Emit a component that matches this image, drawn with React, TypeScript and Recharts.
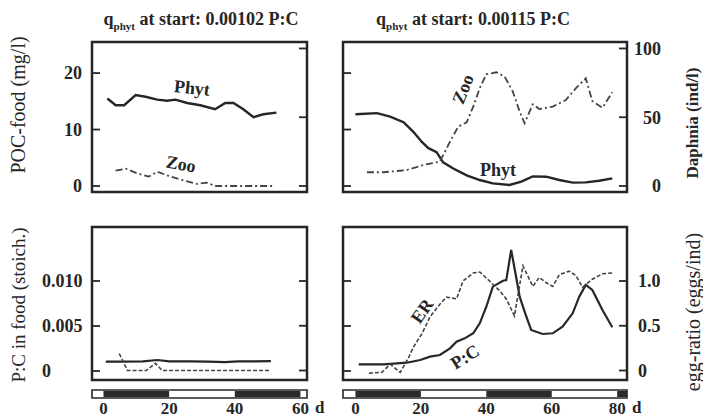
import React from 'react';
import { LineChart, ComposedChart, Line, Area, XAxis, YAxis, ReferenceArea } from 'recharts';

const FONT = '"Liberation Serif", "Times New Roman", serif';
const INK = '#262626';
const GREY = '#444444';

// ---------- top-left panel (q start 0.00102) ----------
const phytLDays = [1.2, 3.7, 6.3, 9.8, 12.8, 16.4, 19.4, 21.9, 25.5, 29.5, 34, 37.1, 39.6, 42.6, 45.7, 48.7, 52.7];
const phytLPoc = [15.5, 14.3, 14.3, 16.1, 15.8, 15.3, 15.1, 15.3, 14.7, 14.3, 13.6, 14.7, 14.7, 13.6, 12.2, 12.7, 13.0];
const zooLDays = [3.7, 6.8, 10.3, 13.8, 16.4, 19.9, 24.5, 28.5, 31.5, 34, 51.7];
const zooLInd = [11.1, 12.6, 9.2, 6.8, 10.4, 7.3, 3.9, 1.5, 2.4, 0, 0];

// ---------- top-right panel (q start 0.00115) ----------
const phytRDays = [0, 6.6, 10.6, 14.7, 17.7, 20.3, 22.3, 24.8, 26.8, 29.9, 34, 38, 42, 47.1, 50.7, 54.2, 58.3, 62.3, 66.4, 70.4, 74.5, 78.5];
const phytRPoc = [12.7, 12.9, 12.3, 11.3, 9.6, 7.8, 6.7, 6.0, 4.2, 3.1, 1.9, 1.06, 0.47, 0.18, 0.77, 1.7, 1.65, 1.06, 0.6, 0.65, 0.94, 1.36];
const zooRDays = [3.5, 8.6, 15.7, 20.8, 25.8, 28.9, 31.4, 34, 36, 38, 40, 43.1, 45.6, 48.1, 50.2, 51.7, 54.2, 56.2, 60.3, 64.3, 67.4, 70.4, 72.4, 75.5, 78.5];
const zooRInd = [10.0, 10.0, 11.6, 15.3, 17.7, 32.2, 43.1, 46.3, 57.7, 71.1, 81.2, 82.7, 79.5, 68.6, 54.0, 45.6, 59.4, 56.0, 57.7, 62.5, 71.1, 78.3, 61.8, 56.9, 68.1];

// ---------- bottom-left panel ----------
const pcLDays = [0.7, 6, 12, 16.5, 20, 26, 32, 37, 41, 46, 51];
const pcLVals = [0.00105, 0.00105, 0.00108, 0.00122, 0.00108, 0.00106, 0.00104, 0.00098, 0.00106, 0.00108, 0.0011];
const erLDays = [4.8, 7.3, 13, 15.8, 17.9, 25, 35, 45, 51];
const erLVals = [0.19, 0, 0, 0.08, 0, 0, 0, 0, 0];

// ---------- bottom-right panel ----------
const pcRDays = [1, 8.6, 15.7, 19.8, 22.8, 25.8, 28.9, 30.9, 33.4, 36, 38, 40, 42, 45.1, 46.1, 47.6, 49.1, 50.2, 51.7, 53.7, 57.2, 60.3, 63.3, 66.4, 68.4, 70.4, 72.4, 75.5, 78.5];
const pcRVals = [0.00074, 0.00074, 0.00092, 0.00122, 0.00159, 0.00178, 0.00252, 0.00326, 0.00363, 0.00419, 0.0053, 0.00714, 0.00937, 0.01003, 0.0101, 0.01344, 0.01048, 0.00826, 0.00659, 0.00456, 0.00411, 0.00419, 0.00493, 0.00641, 0.00826, 0.00956, 0.009, 0.00678, 0.00486];
const erRDays = [4.1, 8.1, 10.6, 13.7, 16.2, 17.7, 20.3, 22.8, 25.8, 27.8, 30.9, 32.9, 36, 38, 41, 44.1, 46.1, 48.6, 51.2, 54.2, 56.2, 58.3, 60.3, 62.3, 65.3, 67.4, 69.4, 72.4, 75.5, 78.5];
const erRVals = [-0.03, -0.02, 0.07, -0.02, 0.14, 0.26, 0.41, 0.6, 0.74, 0.82, 0.8, 1.0, 1.09, 1.1, 1.0, 0.89, 0.8, 0.61, 1.17, 0.94, 1.04, 0.98, 0.94, 1.07, 1.11, 1.06, 0.93, 1.02, 1.08, 1.09];

// ---------- axes ----------
const pocTicks = [0, 10, 20];
const daphTicks = [0, 50, 100];
const pcTicks = [0, 0.005, 0.01];
const eggTicks = [0, 0.5, 1.0];
const dayTicksL = [0, 20, 40, 60];
const dayTicksR = [0, 20, 40, 60, 80];
const darkL = [[0, 20], [40, 60]];
const darkR = [[0, 20], [40, 60], [80, 83]];

const xDomL = [-3.5, 62];
const xDomR = [-3.8, 83];
const pocDom = [-1.06, 25.5];
const daphDom = [-4.36, 104.7];
const pcDom = [-0.001, 0.016];
const eggDom = [-0.106, 1.603];

const zip = (xs: number[], ys: number[]) => xs.map((d, i) => ({ day: d, v: ys[i] }));

const tickText = { fill: INK, fontSize: 18, fontWeight: 'bold' as const, fontFamily: FONT };

type Series = { data: { day: number; v: number }[]; axis: 'l' | 'r'; dash?: string; color: string; w: number };

type AxisSpec = {
  domain: number[];
  ticks: number[];
  show: boolean;
  anchor?: 'start' | 'end';
  margin: number;
  fmt?: (v: number) => string;
};

// tick that draws an inward tick mark at the frame edge plus an optional label outside
function makeTick(side: 'l' | 'r', spec: AxisSpec) {
  return (p: any) => {
    const { x, y, payload } = p;
    const edge = side === 'l' ? x + spec.margin : x - spec.margin;
    const inner = side === 'l' ? edge + 8 : edge - 8;
    const label = spec.fmt ? spec.fmt(payload.value) : String(payload.value);
    return (
      <g>
        <line x1={edge} x2={inner} y1={y} y2={y} stroke={INK} strokeWidth={1.8} />
        {spec.show && (
          <text x={x} y={y} dy="0.35em" textAnchor={spec.anchor || (side === 'l' ? 'end' : 'start')} {...tickText}>
            {label}
          </text>
        )}
      </g>
    );
  };
}

function Panel(props: {
  left: number; top: number; width: number; height: number;
  leftW: number; rightW: number; mt: number; mb: number;
  xDom: number[]; la: AxisSpec; ra: AxisSpec; series: Series[];
}) {
  const { left, top, width, height, leftW, rightW, mt, mb, xDom, la, ra, series } = props;
  const frameData = [{ day: xDom[0], v: 0 }];
  return (
    <div style={{ position: 'absolute', left, top }}>
      <LineChart width={width} height={height} margin={{ top: mt, bottom: mb, left: 0, right: 0 }} data={frameData}>
        <XAxis xAxisId="b" type="number" dataKey="day" domain={xDom} allowDataOverflow hide />
        <YAxis
          yAxisId="l" orientation="left" width={leftW} type="number" domain={la.domain} allowDataOverflow
          ticks={la.ticks} interval={0} tickSize={0} tickMargin={la.margin}
          tick={makeTick('l', la)} tickLine={false} axisLine={false}
        />
        <YAxis
          yAxisId="r" orientation="right" width={rightW} type="number" domain={ra.domain} allowDataOverflow
          ticks={ra.ticks} interval={0} tickSize={0} tickMargin={ra.margin}
          tick={makeTick('r', ra)} tickLine={false} axisLine={false}
        />
        <ReferenceArea
          xAxisId="b" yAxisId="l" x1={xDom[0]} x2={xDom[1]} y1={la.domain[0]} y2={la.domain[1]}
          fill="none" stroke={INK} strokeWidth={2.5} ifOverflow="visible"
        />
        {series.map((s, i) => (
          <Line
            key={i} xAxisId="b" yAxisId={s.axis} data={s.data} dataKey="v" type="linear"
            stroke={s.color} strokeWidth={s.w} strokeDasharray={s.dash} dot={false}
            isAnimationActive={false}
          />
        ))}
      </LineChart>
    </div>
  );
}

// light/dark bar under the bottom panels, built as a stepped area from the dark periods
function DayBar(props: { left: number; width: number; ml: number; mr: number; xDom: number[]; ticks: number[]; dark: number[][]; dOffset: number }) {
  const { left, width, ml, mr, xDom, ticks, dark, dOffset } = props;
  const steps: { day: number; v: number }[] = [{ day: xDom[0], v: 0 }];
  dark.forEach((p) => {
    steps.push({ day: p[0], v: 1 });
    steps.push({ day: Math.min(p[1], xDom[1]), v: 0 });
  });
  if (steps[steps.length - 1].day < xDom[1]) steps.push({ day: xDom[1], v: 0 });
  return (
    <div style={{ position: 'absolute', left, top: 380 }}>
      <ComposedChart width={width} height={38} margin={{ top: 10, bottom: 0, left: ml, right: mr }} data={steps}>
        <XAxis
          type="number" dataKey="day" domain={xDom} allowDataOverflow ticks={ticks} interval={0}
          height={20} tickSize={0} tickMargin={4} tickLine={false} axisLine={false}
          tick={{ ...tickText, fontSize: 17 }}
          label={{ value: 'd', position: 'right', offset: dOffset, fill: INK, fontSize: 17, fontWeight: 'bold', fontFamily: FONT, dy: -1 }}
        />
        <YAxis type="number" domain={[-0.18, 1.18]} allowDataOverflow hide />
        <ReferenceArea x1={xDom[0]} x2={xDom[1]} y1={-0.18} y2={1.18} fill="none" stroke={INK} strokeWidth={1.6} ifOverflow="visible" />
        <Area
          type="stepAfter" dataKey="v" baseValue={0} stroke="none" fill="#2b2b2b" fillOpacity={1}
          dot={false} activeDot={false} isAnimationActive={false}
        />
      </ComposedChart>
    </div>
  );
}

function Txt(props: { x: number; y: number; rot?: number; size: number; bold?: boolean; children: React.ReactNode }) {
  const { x, y, rot = 0, size, bold, children } = props;
  return (
    <div
      style={{
        position: 'absolute', left: x, top: y, transform: `translate(-50%, -50%) rotate(${rot}deg)`,
        whiteSpace: 'nowrap', fontSize: size, fontWeight: bold ? 'bold' : 'normal', color: INK,
        fontFamily: FONT, lineHeight: 1,
      }}
    >
      {children}
    </div>
  );
}

const fmtPc = (v: number) => (v === 0 ? '0' : v.toFixed(3));
const fmtEgg = (v: number) => (v === 0 ? '0' : v.toFixed(1));

export default function App() {
  return (
    <div style={{ position: 'absolute', left: 0, top: 0, width: 703, height: 418, background: '#fff', overflow: 'hidden', fontFamily: FONT }}>
      <Panel
        left={0} top={0} width={340} height={200} leftW={92} rightW={33} mt={42} mb={8} xDom={xDomL}
        la={{ domain: pocDom, ticks: pocTicks, show: true, anchor: 'end', margin: 10 }}
        ra={{ domain: daphDom, ticks: daphTicks, show: false, margin: 10 }}
        series={[
          { data: zip(phytLDays, phytLPoc), axis: 'l', color: INK, w: 2.4 },
          { data: zip(zooLDays, zooLInd), axis: 'r', color: GREY, w: 1.8, dash: '7 3 2 3' },
        ]}
      />
      <Panel
        left={300} top={0} width={403} height={200} leftW={43} rightW={76} mt={42} mb={8} xDom={xDomR}
        la={{ domain: pocDom, ticks: pocTicks, show: false, margin: 10 }}
        ra={{ domain: daphDom, ticks: daphTicks, show: true, anchor: 'end', margin: 34 }}
        series={[
          { data: zip(phytRDays, phytRPoc), axis: 'l', color: INK, w: 2.4 },
          { data: zip(zooRDays, zooRInd), axis: 'r', color: GREY, w: 1.8, dash: '7 3 2 3' },
        ]}
      />
      <Panel
        left={0} top={200} width={340} height={190} leftW={92} rightW={33} mt={27} mb={10} xDom={xDomL}
        la={{ domain: pcDom, ticks: pcTicks, show: true, anchor: 'start', margin: 50, fmt: fmtPc }}
        ra={{ domain: eggDom, ticks: eggTicks, show: false, margin: 10 }}
        series={[
          { data: zip(pcLDays, pcLVals), axis: 'l', color: INK, w: 2.2 },
          { data: zip(erLDays, erLVals), axis: 'r', color: GREY, w: 1.6, dash: '4 2' },
        ]}
      />
      <Panel
        left={300} top={200} width={403} height={190} leftW={43} rightW={76} mt={27} mb={10} xDom={xDomR}
        la={{ domain: pcDom, ticks: pcTicks, show: false, margin: 10 }}
        ra={{ domain: eggDom, ticks: eggTicks, show: true, anchor: 'start', margin: 11, fmt: fmtEgg }}
        series={[
          { data: zip(pcRDays, pcRVals), axis: 'l', color: INK, w: 2.2 },
          { data: zip(erRDays, erRVals), axis: 'r', color: GREY, w: 1.6, dash: '4 2' },
        ]}
      />
      <DayBar left={0} width={340} ml={92} mr={33} xDom={xDomL} ticks={dayTicksL} dark={darkL} dOffset={8} />
      <DayBar left={300} width={403} ml={43} mr={76} xDom={xDomR} ticks={dayTicksR} dark={darkR} dOffset={5} />

      <Txt x={201} y={21} size={18} bold>
        q<sub style={{ fontSize: 11 }}>phyt</sub> at start: 0.00102 P:C
      </Txt>
      <Txt x={473} y={21} size={18} bold>
        q<sub style={{ fontSize: 11 }}>phyt</sub> at start: 0.00115 P:C
      </Txt>

      <Txt x={18} y={105} rot={-90} size={20}>POC-food (mg/l)</Txt>
      <Txt x={18} y={305} rot={-90} size={19}>P:C in food (stoich.)</Txt>
      <Txt x={692} y={123} rot={-90} size={17} bold>Daphnia (ind/l)</Txt>
      <Txt x={693} y={312} rot={-90} size={20}>egg-ratio (eggs/ind)</Txt>

      <Txt x={192} y={88} rot={6} size={18} bold>Phyt</Txt>
      <Txt x={181} y={164} rot={10} size={18} bold>Zoo</Txt>
      <Txt x={463} y={89} rot={-68} size={18} bold>Zoo</Txt>
      <Txt x={498} y={170} size={18} bold>Phyt</Txt>
      <Txt x={422} y={311} rot={-55} size={18} bold>ER</Txt>
      <Txt x={465} y={357} rot={-32} size={18} bold>P:C</Txt>
    </div>
  );
}
